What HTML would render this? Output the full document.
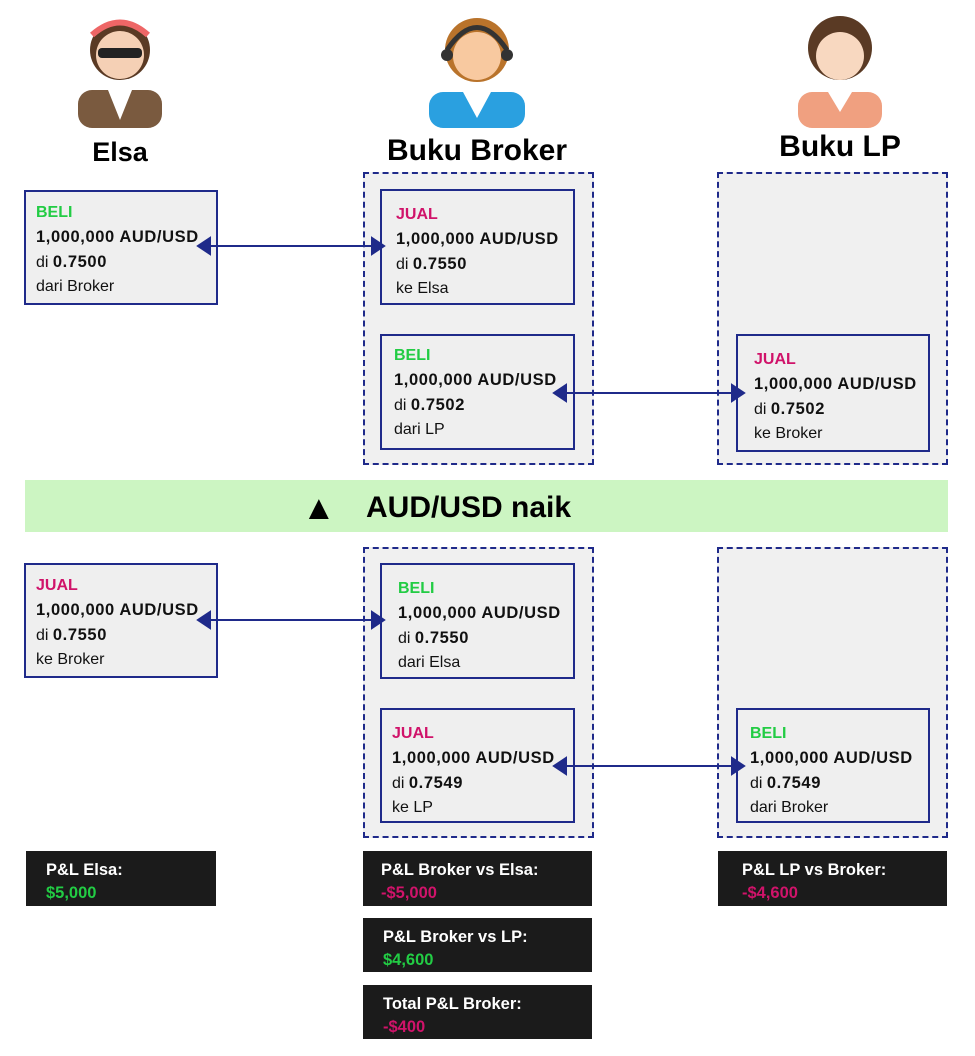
<!DOCTYPE html>
<html><head><meta charset="utf-8"><style>
body{margin:0;width:975px;height:1056px;background:#fff;position:relative;overflow:hidden;font-family:"Liberation Sans",sans-serif}
.a{position:absolute}
.box{position:absolute;border:2px solid #1f2a8a;background:#efefef;box-sizing:border-box;padding:12px 0 0 10px;font-size:16px;line-height:24px;color:#111;white-space:nowrap}
.box b{letter-spacing:0.6px;font-size:16.5px}
.cont{position:absolute;border:2px dashed #1f2a8a;background:#f0f0f0;box-sizing:border-box}
.g{color:#22cc44;font-weight:bold}.r{color:#d0136a;font-weight:bold}
.h{position:absolute;font-weight:bold;font-size:27px;color:#000;text-align:center;white-space:nowrap}
.pl{position:absolute;background:#1b1b1b;color:#fff;font-weight:bold;font-size:16.5px;line-height:23px;padding:8px 0 0 20px;box-sizing:border-box;white-space:nowrap}
</style></head><body>
<svg class="a" style="left:0;top:0" width="975" height="130">
<g transform="translate(120,0)"><rect x="-42" y="90" width="84" height="38" rx="14" fill="#7a5a3f"/><path d="M-12 90 L0 120 L12 90Z" fill="#fff"/><circle cx="0" cy="50" r="30" fill="#5a3a24"/><circle cx="0" cy="55" r="24" fill="#f5d0b5"/><rect x="-22" y="48" width="44" height="10" rx="4" fill="#222"/><path d="M-28 35 Q0 10 28 35" stroke="#e66" stroke-width="6" fill="none"/></g>
<g transform="translate(477,0)"><rect x="-48" y="92" width="96" height="36" rx="14" fill="#2aa0e0"/><path d="M-14 92 L0 118 L14 92Z" fill="#fff"/><circle cx="0" cy="50" r="32" fill="#b9732b"/><circle cx="0" cy="56" r="24" fill="#f8c9a0"/><path d="M-30 50 Q0 5 30 50" stroke="#333" stroke-width="5" fill="none"/><circle cx="-30" cy="55" r="6" fill="#333"/><circle cx="30" cy="55" r="6" fill="#333"/></g>
<g transform="translate(840,0)"><rect x="-42" y="92" width="84" height="36" rx="14" fill="#f0a080"/><path d="M-12 92 L0 112 L12 92Z" fill="#fff"/><circle cx="0" cy="48" r="32" fill="#5a3a24"/><circle cx="0" cy="56" r="24" fill="#f8d8c0"/></g>
</svg>
<div class="h" style="left:40px;width:160px;top:137px">Elsa</div>
<div class="h" style="left:340px;width:274px;top:134px;font-size:30px">Buku Broker</div>
<div class="h" style="left:720px;width:240px;top:130px;font-size:30px">Buku LP</div>

<div class="cont" style="left:363px;top:172px;width:231px;height:293px"></div>
<div class="cont" style="left:717px;top:172px;width:231px;height:293px"></div>
<div class="cont" style="left:363px;top:547px;width:231px;height:291px"></div>
<div class="cont" style="left:717px;top:547px;width:231px;height:291px"></div>

<div class="box" style="left:24px;top:190px;width:194px;height:115px;padding-top:9px"><span class="g">BELI</span><br><b>1,000,000 AUD/USD</b><br>di <b>0.7500</b><br>dari Broker</div>
<div class="box" style="left:380px;top:189px;width:195px;height:116px;padding-left:14px"><span class="r">JUAL</span><br><b>1,000,000 AUD/USD</b><br>di <b>0.7550</b><br>ke Elsa</div>
<div class="box" style="left:380px;top:334px;width:195px;height:116px;padding-left:12px;padding-top:8px"><span class="g">BELI</span><br><b>1,000,000 AUD/USD</b><br>di <b>0.7502</b><br>dari LP</div>
<div class="box" style="left:736px;top:334px;width:194px;height:118px;padding-left:16px"><span class="r">JUAL</span><br><b>1,000,000 AUD/USD</b><br>di <b>0.7502</b><br>ke Broker</div>

<div class="a" style="left:25px;top:480px;width:923px;height:52px;background:#ccf5c2"></div>
<div class="a" style="left:302px;top:488px;font-size:34px;line-height:40px">▲</div>
<div class="a" style="left:366px;top:490px;font-size:30px;font-weight:bold;line-height:36px">AUD/USD naik</div>

<div class="box" style="left:24px;top:563px;width:194px;height:115px;padding-top:9px"><span class="r">JUAL</span><br><b>1,000,000 AUD/USD</b><br>di <b>0.7550</b><br>ke Broker</div>
<div class="box" style="left:380px;top:563px;width:195px;height:116px;padding-left:16px"><span class="g">BELI</span><br><b>1,000,000 AUD/USD</b><br>di <b>0.7550</b><br>dari Elsa</div>
<div class="box" style="left:380px;top:708px;width:195px;height:115px;padding-left:10px"><span class="r">JUAL</span><br><b>1,000,000 AUD/USD</b><br>di <b>0.7549</b><br>ke LP</div>
<div class="box" style="left:736px;top:708px;width:194px;height:115px;padding-left:12px"><span class="g">BELI</span><br><b>1,000,000 AUD/USD</b><br>di <b>0.7549</b><br>dari Broker</div>

<svg class="a" style="left:0;top:0" width="975" height="1056">
<g stroke="#1f2a8a" stroke-width="2" fill="#1f2a8a">
<line x1="205" y1="246" x2="380" y2="246"/><path d="M198 246 L210 238 L210 254Z"/><path d="M384 246 L372 238 L372 254Z"/>
<line x1="560" y1="393" x2="740" y2="393"/><path d="M554 393 L566 385 L566 401Z"/><path d="M744 393 L732 385 L732 401Z"/>
<line x1="205" y1="620" x2="380" y2="620"/><path d="M198 620 L210 612 L210 628Z"/><path d="M384 620 L372 612 L372 628Z"/>
<line x1="560" y1="766" x2="740" y2="766"/><path d="M554 766 L566 758 L566 774Z"/><path d="M744 766 L732 758 L732 774Z"/>
</g></svg>

<div class="pl" style="left:26px;top:851px;width:190px;height:55px">P&amp;L Elsa:<br><span class="g">$5,000</span></div>
<div class="pl" style="left:363px;top:851px;width:229px;height:55px;padding-left:18px">P&amp;L Broker vs Elsa:<br><span class="r">-$5,000</span></div>
<div class="pl" style="left:363px;top:918px;width:229px;height:54px">P&amp;L Broker vs LP:<br><span class="g">$4,600</span></div>
<div class="pl" style="left:363px;top:985px;width:229px;height:54px">Total P&amp;L Broker:<br><span class="r">-$400</span></div>
<div class="pl" style="left:718px;top:851px;width:229px;height:55px;padding-left:24px">P&amp;L LP vs Broker:<br><span class="r">-$4,600</span></div>
</body></html>
